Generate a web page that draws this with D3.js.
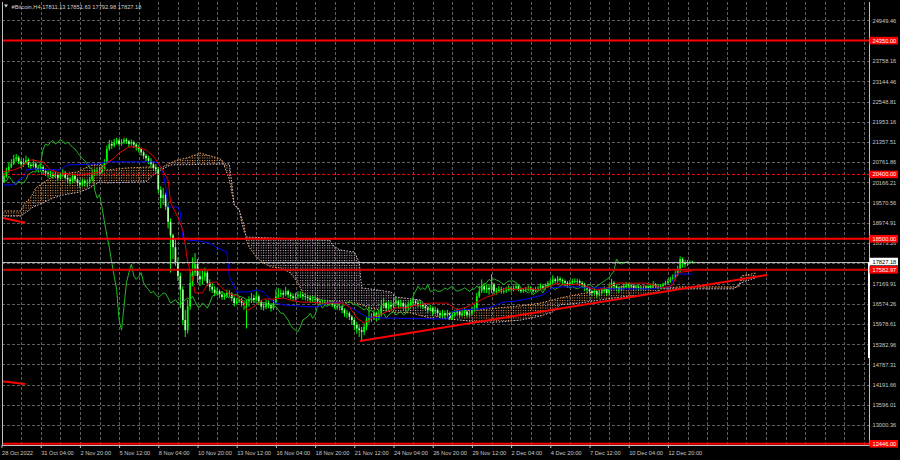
<!DOCTYPE html>
<html><head><meta charset="utf-8">
<script src="https://cdn.jsdelivr.net/npm/d3@7"></script>
<style>
html,body{margin:0;padding:0;background:#000;}
svg{display:block;}
text{font-family:"Liberation Sans",Arial,sans-serif;}
</style></head><body>
<svg id="chart" width="900" height="460"></svg>
<script>
// ---------------- DATA ----------------
const symbol = "#Bitcoin,H4";
const lastOHLC = [17811.13, 17851.63, 17792.98, 17827.18];

// H4 candles, bar 0 = 28 Oct 2022 12:00
const opens = [
20100,20180,20350,20500,20620,20720,20850,20900,20780,20700,
20750,20820,20680,20650,20720,20600,20560,20620,20500,20450,
20380,20420,20350,20400,20300,20380,20450,20300,20250,20200,
20350,20250,20150,20100,20200,20150,20150,20250,20400,20450,
20480,20470,20600,20750,21150,21300,21250,21350,21400,21300,
21350,21420,21380,21300,21350,21280,21200,21150,21050,20950,
20880,20800,20700,20600,20550,19950,19700,19800,19450,19000,
18600,18250,17800,17400,17000,16100,15800,16500,17200,17500,
17750,17400,17300,17380,17500,17200,17080,17000,16900,16950,
16850,16780,16820,16900,16880,16750,16600,16650,16700,16600,
16550,16650,16700,16750,16690,16800,16650,16500,16480,16600,
16550,16450,16600,16800,16850,16900,16850,16950,16850,16800,
16750,16800,16850,16850,16800,16780,16750,16700,16700,16720,
16650,16620,16620,16600,16620,16600,16550,16500,16480,16500,
16400,16300,16300,16200,16100,15950,15850,15800,15750,15900,
16100,16150,16200,16300,16150,16250,16500,16600,16450,16550,
16500,16600,16650,16550,16600,16500,16450,16550,16600,16650,
16600,16550,16550,16500,16450,16400,16450,16350,16400,16300,
16250,16300,16250,16300,16150,16250,16300,16350,16250,16300,
16350,16250,16300,16400,16450,16800,16950,17100,17000,17050,
17000,17150,16950,16950,17000,16950,16950,16980,17050,17000,
17050,17100,17000,16950,16980,17000,17050,17000,16950,17000,
17020,17100,17050,17100,17150,17200,17300,17250,17320,17280,
17250,17200,17150,17200,17250,17250,17250,17200,17150,17050,
17000,16950,16900,16950,16850,16900,16950,17000,16900,17050,
17200,17100,17050,17000,17050,17100,17150,17120,17100,17050,
17080,17050,17030,17050,17080,17050,17100,17150,17100,17050,
17100,17150,17200,17250,17300,17350,17450,17550,17900,17800,
17750,17800,17811.13];
const highs = [
20300,20450,20600,20750,20850,20980,21000,20950,20850,20880,
20950,20880,20760,20850,20780,20680,20720,20680,20580,20520,
20500,20480,20480,20450,20450,20550,20500,20380,20320,20420,
20400,20300,20220,20280,20260,20250,20330,20480,20550,20600,
20620,20700,20850,21250,21420,21400,21450,21480,21450,21440,
21480,21470,21420,21430,21400,21330,21280,21200,21100,21000,
20950,20880,20780,20700,20600,20050,20000,19850,19550,19100,
18650,18500,17950,17500,17100,16400,16700,17600,17950,18080,
17900,17550,17600,17650,17550,17300,17200,17100,17050,17000,
16950,16900,17000,16980,16920,16800,16750,16800,16750,16680,
16700,16800,16900,16850,16950,16850,16700,16600,16700,16680,
16600,16700,17000,17050,17000,16980,17080,17000,16920,16880,
16900,16950,16950,16900,16880,16850,16820,16800,16820,16780,
16720,16700,16700,16700,16680,16650,16620,16580,16600,16550,
16450,16400,16350,16250,16150,16050,15950,15900,16000,16200,
16500,16300,16400,16350,16400,16700,16750,16650,16650,16650,
16750,16780,16700,16700,16650,16580,16650,16700,16750,16720,
16680,16650,16600,16580,16520,16550,16500,16500,16450,16380,
16400,16380,16400,16350,16350,16400,16450,16400,16400,16450,
16400,16400,16500,16550,16900,17100,17300,17200,17150,17150,
17450,17200,17050,17100,17080,17050,17080,17120,17100,17120,
17180,17150,17050,17050,17070,17120,17100,17050,17080,17100,
17180,17150,17180,17250,17300,17420,17350,17400,17380,17330,
17300,17250,17280,17320,17330,17320,17300,17250,17200,17100,
17080,17000,17050,17000,17000,17050,17100,17050,17150,17320,
17250,17150,17100,17120,17180,17220,17200,17180,17150,17150,
17120,17100,17100,17130,17120,17170,17250,17200,17150,17160,
17200,17260,17320,17380,17450,17550,17700,17980,17950,17880,
17870,17860,17851.63];
const lows = [
20050,20150,20300,20450,20580,20680,20780,20700,20600,20620,
20700,20600,20550,20600,20520,20450,20480,20400,20350,20300,
20320,20280,20300,20220,20250,20330,20250,20150,20100,20150,
20180,20050,20000,20050,20050,20020,20100,20200,20350,20380,
20400,20420,20550,20700,21100,21150,21200,21280,21220,21250,
21300,21300,21200,21250,21180,21100,21050,20950,20850,20780,
20700,20600,20500,20450,19850,19400,19500,19350,18800,17500,
17900,17700,17250,16450,15950,15600,15700,16400,17100,17400,
17200,17100,17150,17250,17100,16950,16900,16800,16820,16750,
16700,16700,16750,16780,16650,16500,16550,16600,16500,16400,
15850,16500,16600,16600,16650,16550,16400,16380,16420,16450,
16350,16400,16550,16750,16780,16750,16800,16750,16700,16650,
16680,16720,16750,16700,16680,16650,16600,16620,16620,16580,
16550,16550,16520,16540,16520,16480,16420,16400,16380,16300,
16200,16150,16100,15950,15800,15700,15600,15500,15650,15800,
16000,16050,16100,16050,16100,16200,16450,16350,16400,16400,
16450,16550,16450,16480,16400,16350,16400,16500,16550,16550,
16480,16480,16420,16380,16300,16350,16250,16300,16200,16150,
16180,16150,16200,16100,16100,16200,16250,16180,16200,16250,
16180,16200,16250,16350,16400,16750,16900,16900,16900,16850,
16900,16850,16850,16900,16880,16880,16900,16950,16930,16950,
17000,16950,16900,16900,16920,16950,16950,16900,16920,16950,
16980,16980,17000,17050,17100,17150,17180,17200,17200,17150,
17100,17050,17100,17150,17180,17150,17100,17050,16950,16900,
16850,16800,16850,16750,16800,16850,16900,16820,16850,17000,
17000,16950,16900,16950,17000,17050,17050,17030,17000,17000,
16980,16980,16990,17000,17000,17020,17050,17050,17000,17020,
17080,17120,17150,17200,17250,17300,17400,17500,17650,17650,
17700,17750,17792.98];
const closes = [
20180,20350,20500,20620,20720,20850,20900,20780,20700,20750,
20820,20680,20650,20720,20600,20560,20620,20500,20450,20380,
20420,20350,20400,20300,20380,20450,20300,20250,20200,20350,
20250,20150,20100,20200,20150,20150,20250,20400,20450,20480,
20470,20600,20750,21150,21300,21250,21350,21400,21300,21350,
21420,21380,21300,21350,21280,21200,21150,21050,20950,20880,
20800,20700,20600,20550,19950,19700,19800,19450,19000,18600,
18250,17800,17400,17000,16100,15800,16500,17200,17500,17750,
17400,17300,17380,17500,17200,17080,17000,16900,16950,16850,
16780,16820,16900,16880,16750,16600,16650,16700,16600,16550,
16650,16700,16750,16690,16800,16650,16500,16480,16600,16550,
16450,16600,16800,16850,16900,16850,16950,16850,16800,16750,
16800,16850,16850,16800,16780,16750,16700,16700,16720,16650,
16620,16620,16600,16620,16600,16550,16500,16480,16500,16400,
16300,16300,16200,16100,15950,15850,15800,15750,15900,16100,
16150,16200,16300,16150,16250,16500,16600,16450,16550,16500,
16600,16650,16550,16600,16500,16450,16550,16600,16650,16600,
16550,16550,16500,16450,16400,16450,16350,16400,16300,16250,
16300,16250,16300,16150,16250,16300,16350,16250,16300,16350,
16250,16300,16400,16450,16800,16950,17100,17000,17050,17000,
17150,16950,16950,17000,16950,16950,16980,17050,17000,17050,
17100,17000,16950,16980,17000,17050,17000,16950,17000,17020,
17100,17050,17100,17150,17200,17300,17250,17320,17280,17250,
17200,17150,17200,17250,17250,17250,17200,17150,17050,17000,
16950,16900,16950,16850,16900,16950,17000,16900,17050,17200,
17100,17050,17000,17050,17100,17150,17120,17100,17050,17080,
17050,17030,17050,17080,17050,17100,17150,17100,17050,17100,
17150,17200,17250,17300,17350,17450,17550,17900,17800,17750,
17800,17811.13,17827.18];

// Ichimoku lines: [bar, price]
const tenkan = [[0,20470],[5,20530],[8,20620],[12,20830],[17,20770],[20,20530],[24,20440],[32,20380],[40,20470],[43,20740],[46,20880],[48,21030],[52,21210],[55,21210],[59,21120],[62,20940],[65,20620],[68,20240],[69,19560],[72,19140],[74,18760],[75,18320],[76,17810],[78,17340],[79,16900],[82,16900],[84,17140],[86,17220],[88,17220],[90,17050],[93,16870],[96,16810],[99,16600],[100,16400],[101,16400],[104,16550],[107,16720],[111,16720],[115,16750],[118,16690],[122,16630],[126,16630],[130,16600],[139,16600],[142,16490],[145,16160],[148,16010],[152,16190],[157,16340],[161,16460],[165,16460],[170,16550],[175,16600],[182,16600],[186,16400],[190,16490],[194,16630],[198,16780],[201,16840],[203,16930],[206,17050],[210,16990],[214,17050],[219,16990],[223,17080],[227,17190],[229,17140],[236,17160],[239,17080],[243,16990],[247,17050],[251,17190],[263,17190],[266,17140],[269,17050],[272,17080],[274,17140],[276,17490],[278,17520],[282,17550]];
const kijun = [[0,20090],[5,20090],[6,20180],[9,20320],[10,20530],[13,20560],[24,20530],[25,20590],[27,20680],[40,20710],[41,20740],[43,20770],[63,20770],[65,20620],[66,20440],[67,20030],[68,19440],[72,19440],[73,19260],[74,18550],[76,18460],[81,18430],[85,18370],[88,18230],[92,18110],[93,17370],[95,17080],[96,16930],[101,16930],[104,16990],[107,16930],[110,16690],[112,16600],[115,16550],[125,16490],[129,16490],[133,16600],[137,16630],[139,16600],[142,16490],[145,16370],[149,16190],[156,16160],[182,16130],[184,16340],[188,16400],[195,16430],[199,16460],[202,16550],[205,16630],[210,16660],[216,16750],[221,16840],[225,17050],[229,17080],[236,17080],[237,17050],[246,17050],[248,17020],[266,17020],[268,17050],[273,17080],[275,17460],[282,17460]];
const senkouA = [[0,19320],[8,19320],[9,19500],[12,19730],[14,20000],[17,20150],[20,20300],[23,20350],[27,20440],[31,20470],[35,20620],[37,20680],[40,20710],[43,20530],[51,20590],[61,20620],[65,20590],[69,20740],[72,20830],[76,20890],[81,21030],[84,20970],[88,20890],[90,20830],[92,20440],[93,20240],[95,19500],[97,19350],[99,18910],[100,18460],[101,18260],[104,17960],[107,17780],[110,17670],[114,17640],[118,17490],[121,17190],[123,16900],[126,16780],[131,16690],[139,16630],[145,16600],[150,16460],[159,16340],[167,16310],[175,16160],[179,16220],[187,16370],[195,16400],[203,16460],[212,16520],[220,16600],[228,16750],[236,16870],[244,16960],[253,17080],[261,17110],[269,17050],[277,17080],[285,17080],[293,17080],[301,17080],[302,17400],[308,17490]];
const senkouB = [[0,19170],[8,19170],[13,19440],[17,19560],[21,19700],[25,19790],[32,19880],[36,20000],[40,20180],[43,20150],[59,20180],[62,20380],[65,20530],[69,20680],[93,20710],[94,20150],[95,19500],[97,19380],[98,18990],[99,18730],[100,18550],[134,18460],[135,18320],[138,18170],[144,18110],[146,17810],[147,17050],[153,16990],[159,16930],[161,16780],[171,16690],[179,16160],[187,16100],[195,16040],[203,16040],[212,16100],[220,16220],[225,16340],[228,16550],[236,16600],[244,16690],[253,16780],[261,16840],[268,16930],[269,17020],[285,17020],[299,17020],[301,17150],[303,17230],[308,17350]];
const chikouShift = 26;

// horizontal levels and trend lines
const levels = [24350.00, 20400.00, 18500.00, 17582.97, 12446.00];
const trendLines = [[146.3,15480,312.4,17430],[-0.6,19130,9.6,18970],[-0.6,14300,9.6,14210]];

// axes
const priceTicks = [24949.46,23758.16,23144.46,22548.81,21953.16,21357.51,20761.86,20166.21,19570.56,18974.91,18379.26,17169.91,16574.26,15978.61,15382.96,14787.31,14191.66,13596.01,13000.36];
const hiddenGridTicks = [24353.81,17783.61];
const timeLabels = ["28 Oct 2022","31 Oct 04:00","2 Nov 20:00","5 Nov 12:00","8 Nov 04:00","10 Nov 20:00","13 Nov 12:00","16 Nov 04:00","18 Nov 20:00","21 Nov 12:00","24 Nov 04:00","26 Nov 20:00","29 Nov 12:00","2 Dec 04:00","4 Dec 20:00","7 Dec 12:00","10 Dec 04:00","12 Dec 20:00"];
const timeLabelBars = timeLabels.map((d,i)=>i*16);

// ---------------- CHART ----------------
const svg = d3.select("#chart");
const P = {l:2, r:869, t:2, b:445};
const FS = 5.7;
const x = d3.scaleLinear().domain([0,1]).range([1.5,3.95]);
const y = d3.scaleLinear().domain([12446,24949.46]).range([443.8,20.3]);

svg.append("rect").attr("width",900).attr("height",460).attr("fill","#000");
const defs = svg.append("defs");
defs.append("clipPath").attr("id","plotClip").append("rect")
  .attr("x",P.l).attr("y",P.t).attr("width",P.r-P.l).attr("height",P.b-P.t);

function hatch(id,color){
  const p = defs.append("pattern").attr("id",id).attr("patternUnits","userSpaceOnUse")
    .attr("x",x(0)-0.5).attr("y",0).attr("width",x(1)-x(0)).attr("height",2.5);
  p.append("rect").attr("x",0).attr("y",0).attr("width",1).attr("height",1).attr("fill",color);
}
hatch("hatchA","#f4a460");
hatch("hatchB","#d8bfd8");

const g = svg.append("g").attr("clip-path","url(#plotClip)");

// grid
const gridColor = "#5f5f5f";
const vBars = d3.range(8, 356, 8);
g.selectAll(".vg").data(vBars).join("line")
  .attr("x1",d=>Math.round(x(d))+0.5).attr("x2",d=>Math.round(x(d))+0.5)
  .attr("y1",P.t).attr("y2",P.b)
  .attr("stroke",gridColor).attr("stroke-width",1).attr("stroke-dasharray","3,2");
g.selectAll(".hg").data(priceTicks.concat(hiddenGridTicks)).join("line")
  .attr("x1",P.l).attr("x2",P.r)
  .attr("y1",d=>Math.round(y(d))+0.5).attr("y2",d=>Math.round(y(d))+0.5)
  .attr("stroke",gridColor).attr("stroke-width",1).attr("stroke-dasharray","3,2");

// cloud
const pts = a => a.map(d=>[x(d[0]),y(d[1])]);
const lineGen = d3.line();
const aPts = pts(senkouA), bPts = pts(senkouB);
const cloudPath = lineGen(aPts.concat(bPts.slice().reverse())) + "Z";
const bFirst = bPts[0], bLast = bPts[bPts.length-1];
defs.append("clipPath").attr("id","aboveB").append("path")
  .attr("d", lineGen([[bFirst[0],0]].concat(bPts,[[bLast[0],0]]))+"Z");
defs.append("clipPath").attr("id","belowB").append("path")
  .attr("d", lineGen([[bFirst[0],460]].concat(bPts,[[bLast[0],460]]))+"Z");
g.append("g").attr("clip-path","url(#aboveB)").append("path")
  .attr("d",cloudPath).attr("fill","url(#hatchA)");
g.append("g").attr("clip-path","url(#belowB)").append("path")
  .attr("d",cloudPath).attr("fill","url(#hatchB)");
g.append("path").attr("d",lineGen(aPts)).attr("fill","none")
  .attr("stroke","#f4a460").attr("stroke-width",1).attr("stroke-dasharray","1.5,1.5");
g.append("path").attr("d",lineGen(bPts)).attr("fill","none")
  .attr("stroke","#d8bfd8").attr("stroke-width",1).attr("stroke-dasharray","1.5,1.5");

// candles
const idx = d3.range(closes.length);
g.selectAll(".wick").data(idx).join("line")
  .attr("x1",i=>x(i)).attr("x2",i=>x(i))
  .attr("y1",i=>y(highs[i])).attr("y2",i=>y(lows[i]))
  .attr("stroke","#00ff00").attr("stroke-width",1);
g.selectAll(".body").data(idx).join("rect")
  .attr("x",i=>x(i)-0.85).attr("width",1.7)
  .attr("y",i=>y(Math.max(opens[i],closes[i])))
  .attr("height",i=>Math.max(0.8,Math.abs(y(opens[i])-y(closes[i]))))
  .attr("fill",i=>closes[i]>=opens[i]?"#00ff00":"#a8ffa8");

// ichimoku lines
g.append("path").attr("d",lineGen(pts(closes.map((c,i)=>[i-chikouShift,c]))))
  .attr("fill","none").attr("stroke","#22b822").attr("stroke-width",1);
g.append("path").attr("d",lineGen(pts(kijun))).attr("fill","none")
  .attr("stroke","#0000ff").attr("stroke-width",1);
g.append("path").attr("d",lineGen(pts(tenkan))).attr("fill","none")
  .attr("stroke","#e00000").attr("stroke-width",1);

// levels
const levelColor = v => v===17582.97 ? "#d40000" : "#ff0000";
g.selectAll(".lvl").data(levels).join("line")
  .attr("x1",P.l).attr("x2",P.r).attr("y1",d=>y(d)).attr("y2",d=>y(d))
  .attr("stroke",levelColor)
  .attr("stroke-width",d=>d===20400?1:2)
  .attr("stroke-dasharray",d=>d===20400?"3,2":null);
// bid line
g.append("line").attr("x1",P.l).attr("x2",P.r)
  .attr("y1",Math.round(y(lastOHLC[3]))+0.5).attr("y2",Math.round(y(lastOHLC[3]))+0.5)
  .attr("stroke","#b8b8b8").attr("stroke-width",1);
// trend lines
g.selectAll(".tl").data(trendLines).join("line")
  .attr("x1",d=>x(d[0])).attr("y1",d=>y(d[1])).attr("x2",d=>x(d[2])).attr("y2",d=>y(d[3]))
  .attr("stroke","#ff0000").attr("stroke-width",2);

// frame
svg.append("path").attr("d",`M${P.l+0.5},${P.t}V${P.b+0.5}H${P.r+0.5}V${P.t}`)
  .attr("fill","none").attr("stroke","#c0c0c0").attr("stroke-width",1);
svg.append("rect").attr("x",P.r-1).attr("y",262).attr("width",2).attr("height",96).attr("fill","#ffffff");

// price axis
const yAxis = svg.append("g").attr("transform",`translate(${P.r},0)`)
  .call(d3.axisRight(y).tickValues(priceTicks).tickFormat(d3.format(".2f")).tickSize(0).tickPadding(3.5));
yAxis.select(".domain").remove();
yAxis.selectAll("text").attr("fill","#c8c8c8").attr("font-size",FS)
  .attr("font-family","Liberation Sans, Arial, sans-serif");

// time axis
const xAxis = svg.append("g").attr("transform",`translate(0,${P.b})`)
  .call(d3.axisBottom(x).tickValues(timeLabelBars).tickFormat((d,i)=>timeLabels[i]).tickSize(3).tickPadding(3));
xAxis.select(".domain").remove();
xAxis.selectAll("line").attr("stroke","#c0c0c0");
xAxis.selectAll("text").attr("fill","#c8c8c8").attr("font-size",FS)
  .attr("text-anchor","start").attr("font-family","Liberation Sans, Arial, sans-serif");

// level labels
const lab = svg.append("g");
levels.forEach(v=>{
  const yy = y(v);
  lab.append("rect").attr("x",P.r+0.5).attr("y",yy-3.8).attr("width",28.5).attr("height",7.6).attr("fill","#ff0000");
  lab.append("text").attr("x",P.r+3.5).attr("y",yy).attr("dy","0.35em")
    .attr("font-size",FS).attr("fill","#ffffff").text(d3.format(".2f")(v));
});
{
  const yy = y(lastOHLC[3]);
  lab.append("rect").attr("x",P.r+0.5).attr("y",yy-3.8).attr("width",28.5).attr("height",7.6).attr("fill","#ffffff");
  lab.append("text").attr("x",P.r+3.5).attr("y",yy).attr("dy","0.35em")
    .attr("font-size",FS).attr("fill","#000000").text(d3.format(".2f")(lastOHLC[3]));
}

// header
svg.append("path").attr("d","M4,4.5L8,4.5L6,7.5Z").attr("fill","#d0d0d0");
svg.append("text").attr("x",11.5).attr("y",8.5).attr("font-size",FS).attr("fill","#d0d0d0")
  .text(symbol + "  " + lastOHLC.map(d3.format(".2f")).join(" "));
</script>
</body></html>
